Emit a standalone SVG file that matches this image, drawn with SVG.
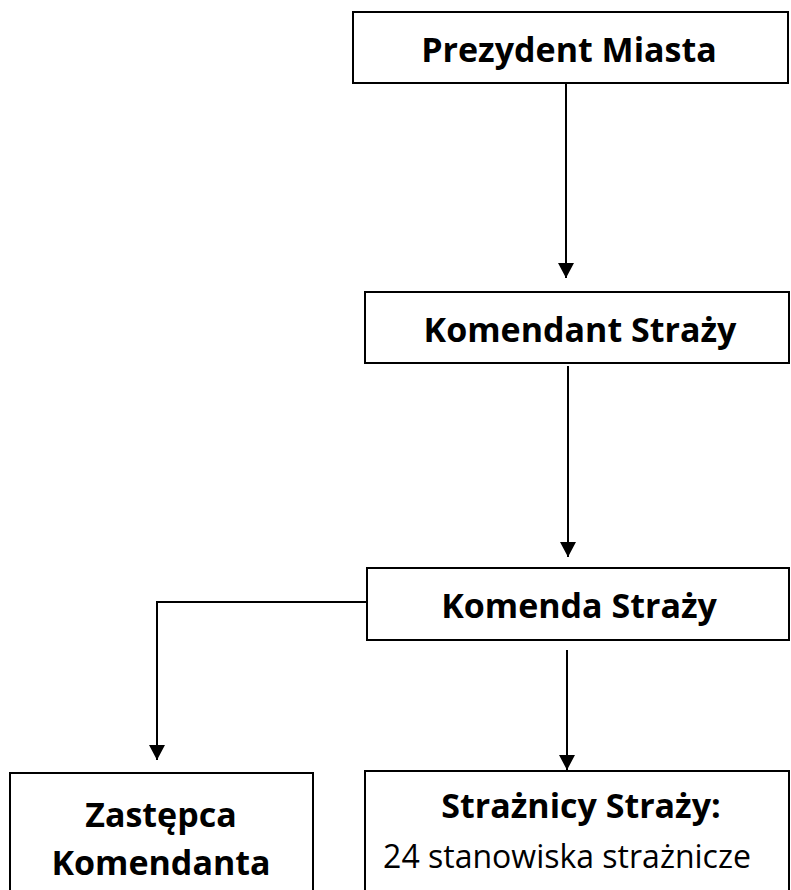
<svg xmlns="http://www.w3.org/2000/svg" width="791" height="890" viewBox="0 0 791 890">
<defs>
<marker id="ah" markerWidth="16" markerHeight="16" viewBox="0 0 16 16" refX="15" refY="8" orient="auto" markerUnits="userSpaceOnUse">
<path d="M0,0 L15,8 L0,16 Z" fill="#000"/>
</marker>
<style>
.box{fill:#fff;stroke:#000;stroke-width:2}
.t{font-family:"Open Sans","Noto Sans",sans-serif;font-size:34px;fill:#000;text-anchor:middle}
.b{font-weight:700}
.r{font-size:32px}
.c{fill:none;stroke:#000;stroke-width:2}
</style>
</defs>
<rect width="791" height="890" fill="#fff"/>
<g id="connectors">
<path class="c" d="M566,83 V278" marker-end="url(#ah)"/>
<path class="c" d="M568,366 V557" marker-end="url(#ah)"/>
<path class="c" d="M367,602 H157 V760" marker-end="url(#ah)"/>
<path class="c" d="M567,650 V770" marker-end="url(#ah)"/>
</g>
<g id="prezydent">
<rect class="box" x="353" y="12" width="435" height="71"/>
<text class="t b" x="569" y="62">Prezydent Miasta</text>
</g>
<g id="komendant">
<rect class="box" x="365" y="292" width="424" height="71"/>
<text class="t b" x="580" y="342">Komendant Straży</text>
</g>
<g id="komenda">
<rect class="box" x="367" y="568" width="422" height="72"/>
<text class="t b" x="579" y="618">Komenda Straży</text>
</g>
<g id="zastepca">
<rect class="box" x="10" y="773" width="303" height="130"/>
<text class="t b" x="161" y="827">Zastępca</text>
<text class="t b" x="161" y="875">Komendanta</text>
</g>
<g id="straznicy">
<rect class="box" x="365" y="771" width="424" height="130"/>
<text class="t b" x="581" y="818">Strażnicy Straży:</text>
<text class="t r" x="567" y="868">24 stanowiska strażnicze</text>
</g>
</svg>
